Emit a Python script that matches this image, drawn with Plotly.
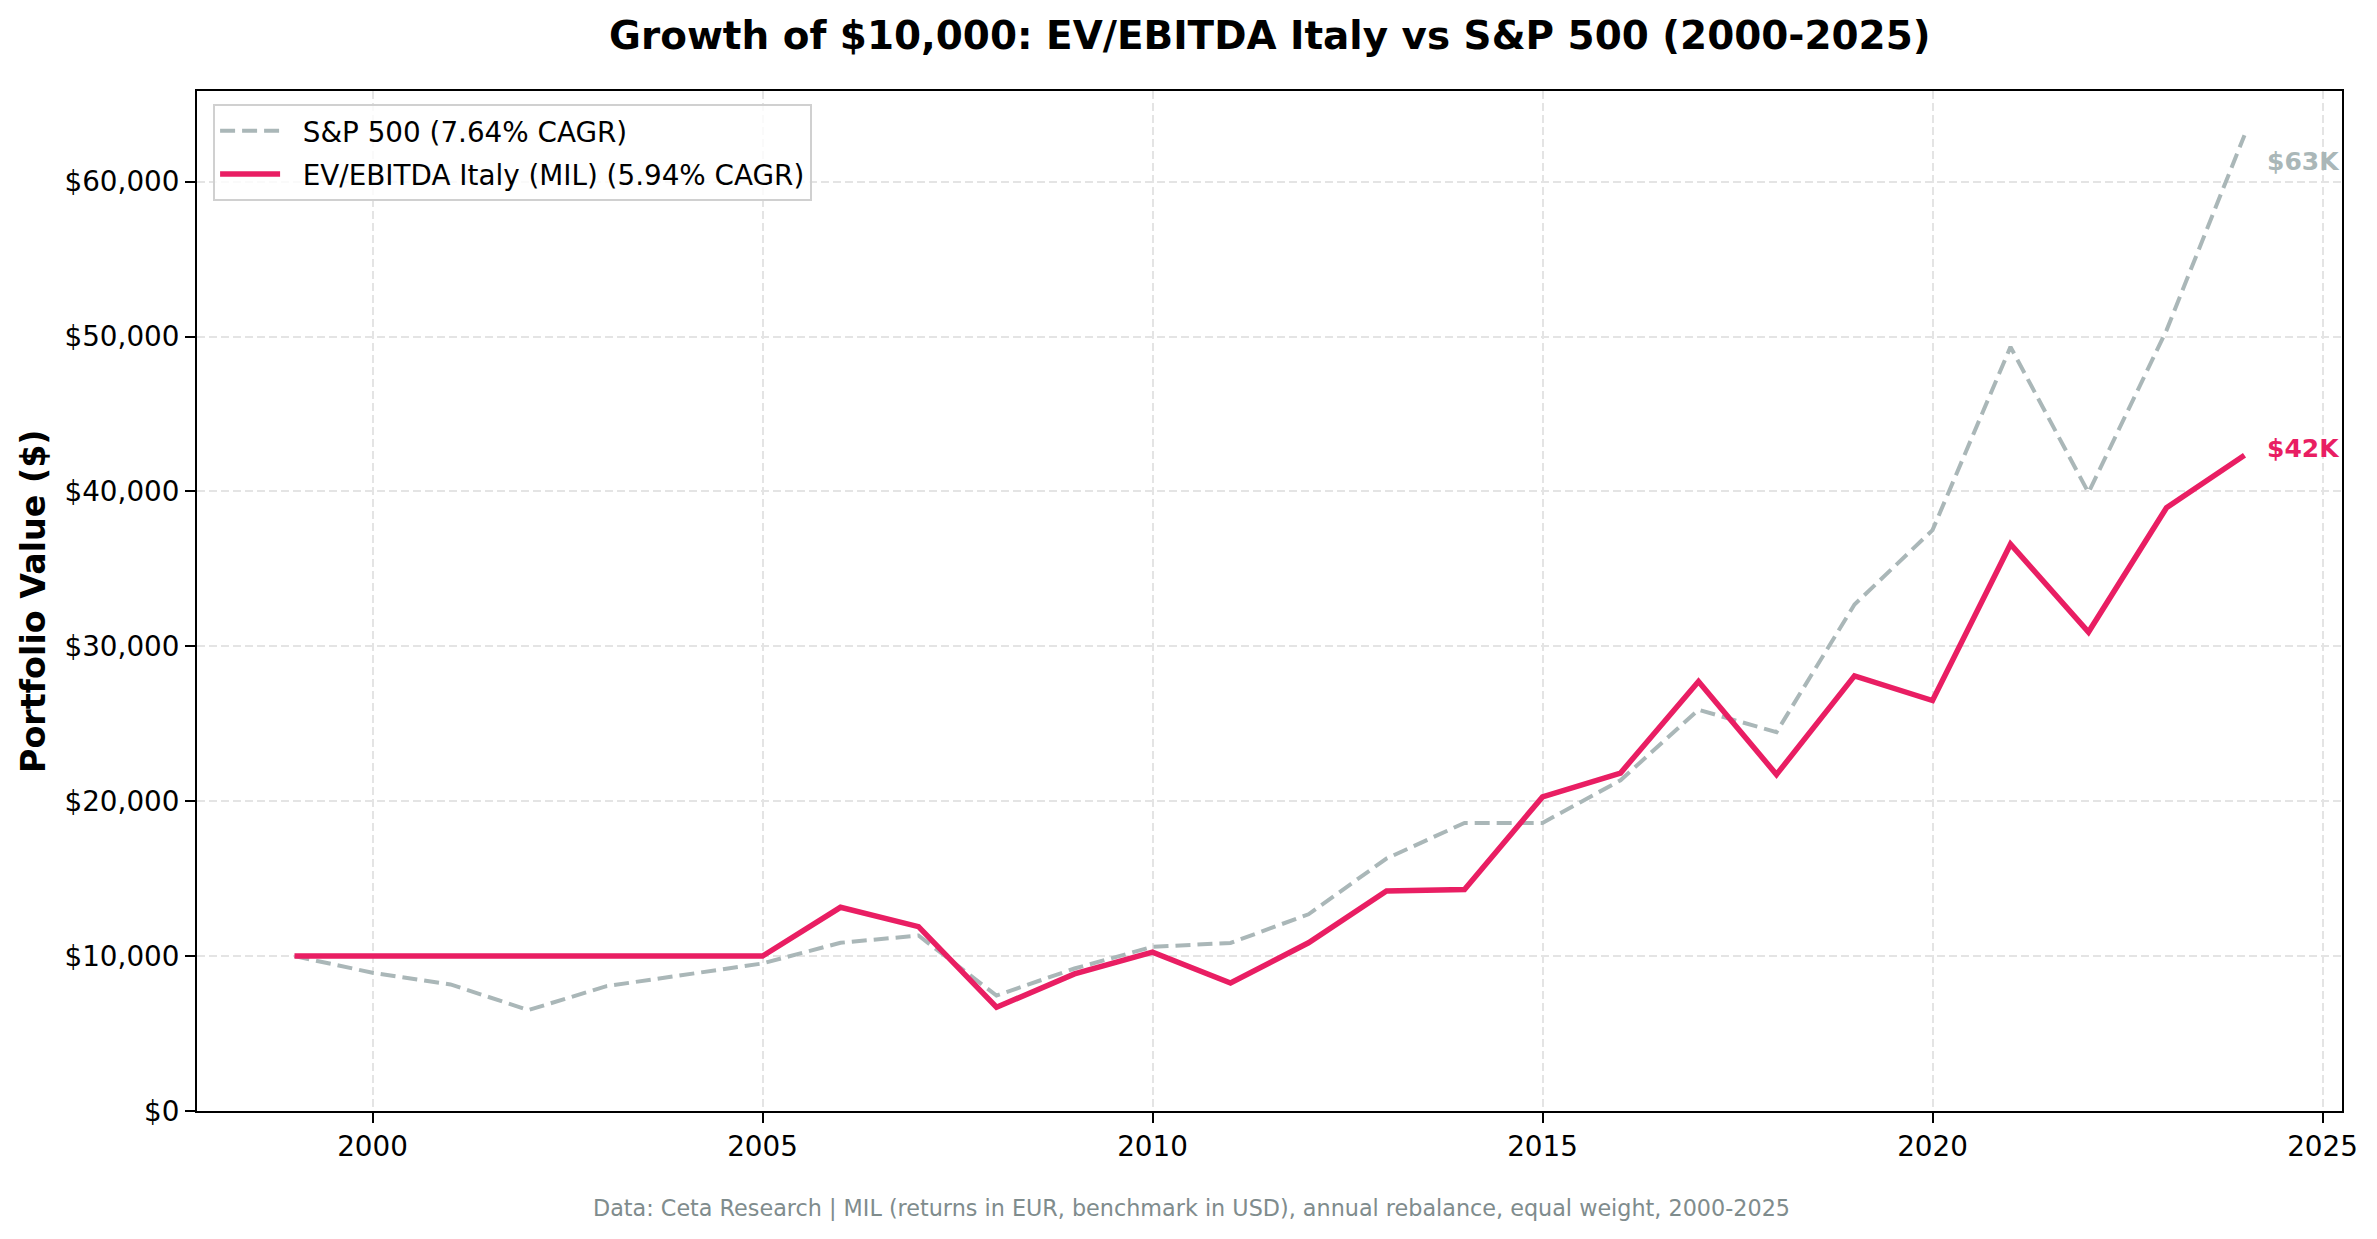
import plotly.graph_objects as go

years = list(range(1999, 2025))
sp500 = [10000, 8925, 8170, 6516, 8060, 8820, 9527, 10860, 11330, 7450, 9200, 10600,
         10850, 12700, 16300, 18600, 18600, 21350, 25900, 24460, 32700, 37500, 49330,
         39920, 50400, 63000]
italy = [10000, 10000, 10000, 10000, 10000, 10000, 10000, 13150, 11900, 6700, 8850,
         10260, 8260, 10860, 14200, 14300, 20280, 21820, 27730, 21720, 28090, 26500,
         36590, 30920, 38950, 42330]

sp_name = "S&P 500 (7.64% CAGR)"
it_name = "EV/EBITDA Italy (MIL) (5.94% CAGR)"
title = "Growth of $10,000: EV/EBITDA Italy vs S&P 500 (2000-2025)"
footer = "Data: Ceta Research | MIL (returns in EUR, benchmark in USD), annual rebalance, equal weight, 2000-2025"
y_ticks = [0, 10000, 20000, 30000, 40000, 50000, 60000]
y_tick_text = ["$0", "$10,000", "$20,000", "$30,000", "$40,000", "$50,000", "$60,000"]
x_ticks = [2000, 2005, 2010, 2015, 2020, 2025]

GRAY = "#aab7b8"
RED = "#e91e63"
FONT = "DejaVu Sans"
PAD = "\u00a0\u00a0"

fig = go.Figure()
fig.add_trace(go.Scatter(x=years, y=sp500, mode="lines", name=PAD + sp_name,
                         legendgroup="sp",
                         line=dict(color=GRAY, width=4, dash="15px,7px")))
fig.add_trace(go.Scatter(x=years, y=italy, mode="lines", name=PAD + it_name,
                         legendgroup="it",
                         line=dict(color=RED, width=5.5)))

def klabel(v):
    return "$%dK" % round(v / 1000)

fig.add_annotation(x=years[-1], y=sp500[-1], text="<b>%s</b>" % klabel(sp500[-1]),
                   showarrow=False, xanchor="left", yanchor="middle",
                   xshift=20, yshift=-26, font=dict(family=FONT, size=25, color=GRAY))
fig.add_annotation(x=years[-1], y=italy[-1], text="<b>%s</b>" % klabel(italy[-1]),
                   showarrow=False, xanchor="left", yanchor="middle",
                   xshift=20, yshift=7, font=dict(family=FONT, size=25, color=RED))

fig.add_annotation(xref="paper", yref="paper", x=-164 / 2145, y=0.5,
                   text="<b>Portfolio Value ($)</b>", textangle=-90, showarrow=False,
                   xanchor="center", yanchor="middle",
                   font=dict(family=FONT, size=33.3, color="black"))
fig.add_annotation(xref="paper", yref="paper", x=0.5 - 78 / 2145, y=-97 / 1020,
                   text=footer, showarrow=False, xanchor="center", yanchor="middle",
                   font=dict(family=FONT, size=22.3, color="#7f8c8d"))

axis_common = dict(showline=True, linecolor="black", linewidth=2, mirror=True,
                   ticks="outside", ticklen=10, tickwidth=2, tickcolor="black",
                   showgrid=True, gridcolor="#e4e4e4", gridwidth=2, griddash="8px,4px",
                   zeroline=False, tickfont=dict(family=FONT, size=27.8, color="black"))

fig.update_layout(
    width=2377, height=1239,
    margin=dict(l=197, r=35, t=91, b=128),
    paper_bgcolor="white", plot_bgcolor="white",
    title=dict(text="<b>%s</b>" % title, x=0.5342, xanchor="center", y=1 - 35 / 1239,
               yanchor="middle", font=dict(family=FONT, size=38.9, color="black")),
    xaxis=dict(range=[1997.75, 2025.25], tickvals=x_ticks, **axis_common),
    yaxis=dict(range=[0, 65850], tickvals=y_ticks, ticktext=y_tick_text, **axis_common),
    legend=dict(x=0.0075, y=0.987, xanchor="left", yanchor="top",
                bgcolor="rgba(255,255,255,0.8)", bordercolor="#d0d0d0", borderwidth=2,
                font=dict(family=FONT, size=27.8, color="black"),
                traceorder="grouped", tracegroupgap=4, itemwidth=60),
    showlegend=True,
)

fig.write_html("out.html")
